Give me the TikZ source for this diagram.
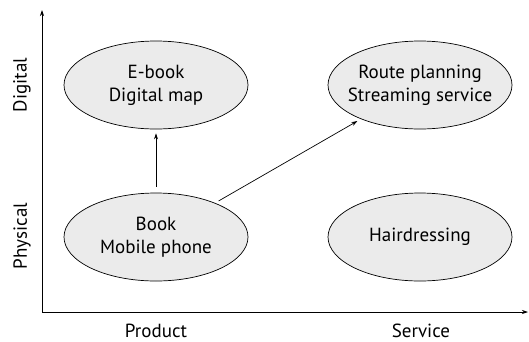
\documentclass[tikz,border=0pt]{standalone}
\usepackage{fontspec}
\setmainfont{PT Sans}
\usetikzlibrary{shapes.geometric,arrows.meta}
\begin{document}
\begin{tikzpicture}[x=1pt,y=-1pt,
  oval/.style={ellipse,draw,line width=0.7pt,fill=black!8,minimum width=184pt,minimum height=88pt,inner xsep=-30pt,inner ysep=0pt,align=center,font=\fontsize{19}{23}\selectfont},
  lab/.style={font=\fontsize{19}{23}\selectfont,inner sep=0pt},
  conn/.style={line width=0.7pt,-{Stealth[length=6pt,width=4pt]}}]
\useasboundingbox (0,0) rectangle (529,341);
\coordinate (O) at (42,312);
\coordinate (ytop) at (42,10);
\coordinate (xend) at (528,312);
\draw[conn] (O) -- (ytop);
\draw[conn] (O) -- (xend);
\node[oval] (ebook) at (156,85) {E-book\\Digital map};
\node[oval] (route) at (420,85) {Route planning\\Streaming service};
\node[oval] (book) at (156,237) {Book\\Mobile phone};
\node[oval] (hair) at (420,237) {Hairdressing};
\draw[conn,shorten <=6pt,shorten >=4pt] (book) -- (ebook);
\draw[conn,shorten <=4pt,shorten >=4pt] (book) -- (route);
\node[lab,rotate=90] (dig) at (22,85) {Digital};
\node[lab,rotate=90] (phy) at (22,236) {Physical};
\node[lab,anchor=base] (prod) at (156,337) {Product};
\node[lab,anchor=base] (serv) at (421,337) {Service};
\end{tikzpicture}
\end{document}
